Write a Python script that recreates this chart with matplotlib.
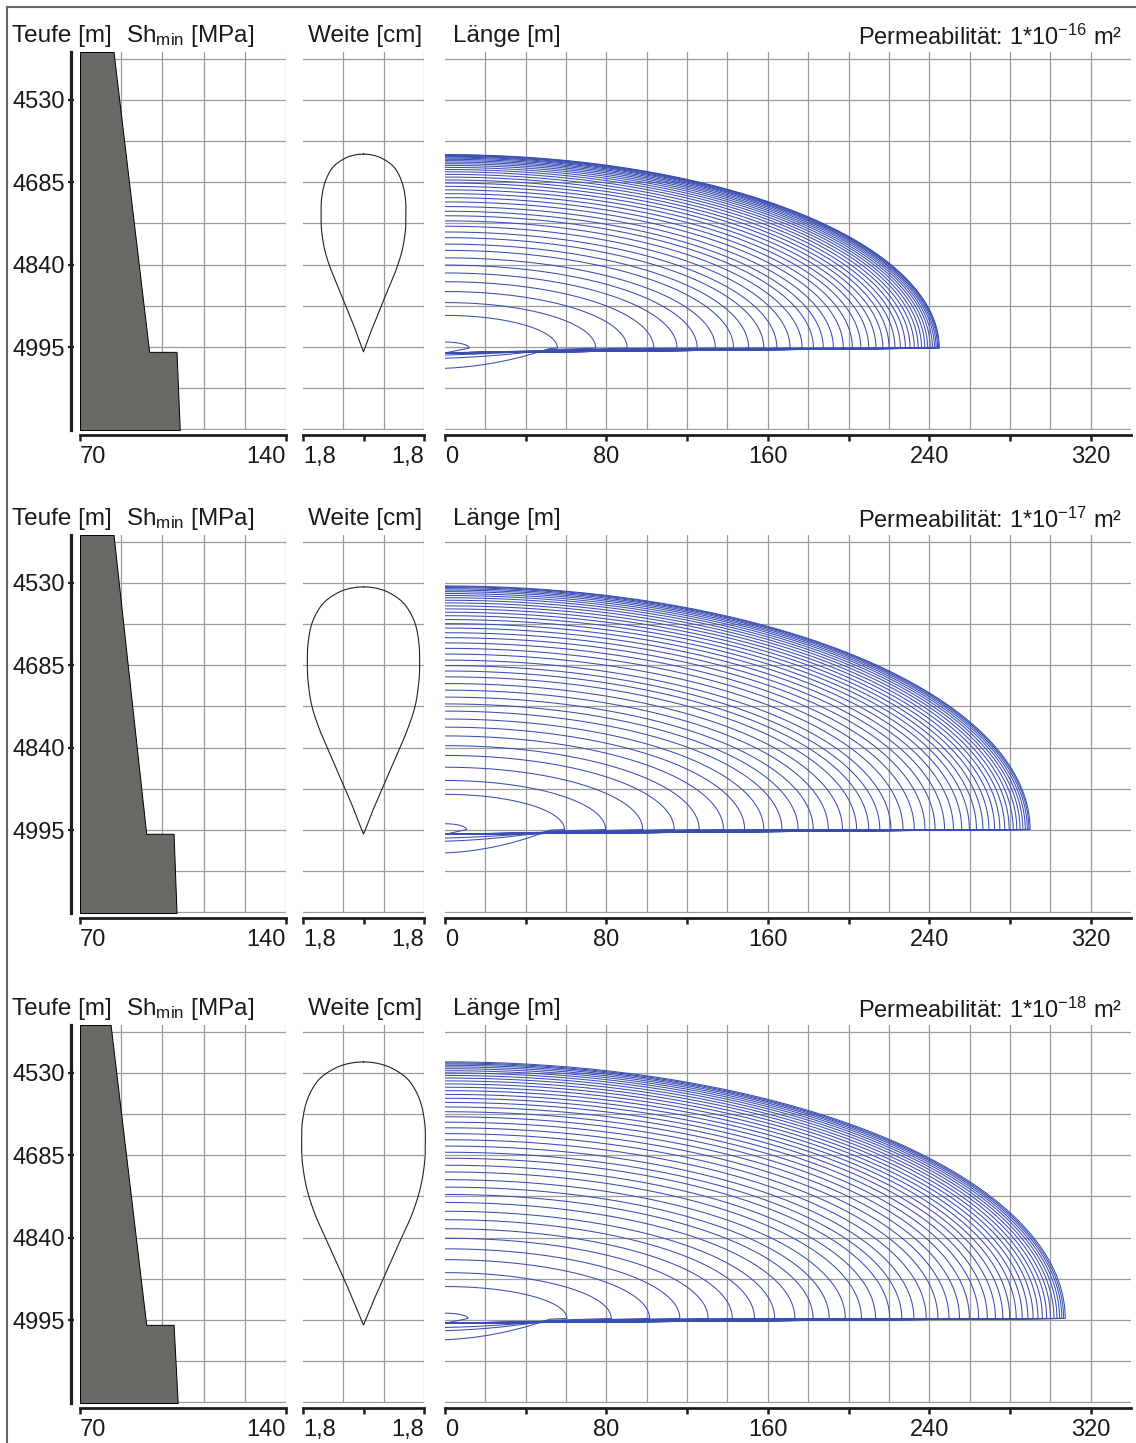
import numpy as np
import matplotlib
matplotlib.use("Agg")
import matplotlib.pyplot as plt
from matplotlib.lines import Line2D

plt.rcParams['font.family'] = ['Liberation Sans', 'DejaVu Sans']
plt.rcParams['mathtext.fontset'] = 'custom'
plt.rcParams['mathtext.rm'] = 'Liberation Sans'
plt.rcParams['mathtext.it'] = 'Liberation Sans:italic'
plt.rcParams['mathtext.bf'] = 'Liberation Sans:bold'

# ---------------- data ----------------
permeability_exp = ["-16", "-17", "-18"]
depth_ticks = [4530, 4685, 4840, 4995]
depth_tick_labels = ["4530", "4685", "4840", "4995"]
stress_ticks = [70, 140]
stress_tick_labels = ["70", "140"]
width_ticks = [-1.8, 0.0, 1.8]
width_tick_labels = ["1,8", "", "1,8"]
length_ticks = [0, 80, 160, 240, 320]
length_minor_ticks = [40, 120, 200, 280]

# minimum horizontal stress profiles (depth [m], Sh_min [MPa])
stress_depth_1 = [4440, 5004, 5004, 5151]
stress_mpa_1 = [81.4, 93.5, 102.8, 103.9]
stress_depth_2 = [4440, 5002, 5002, 5151]
stress_mpa_2 = [81.4, 92.5, 101.8, 102.8]
stress_depth_3 = [4440, 5004, 5004, 5151]
stress_mpa_3 = [80.4, 92.5, 101.8, 103.2]

# width profile at the well (depth [m], half width [cm])
width_depth_1 = [4632.0, 4641.3, 4659.9, 4687.8, 4717.6, 4743.6, 4773.4, 4810.6, 4847.8, 4885.0, 4922.2, 4959.4, 4989.1, 5004.0]
width_half_1 = [0.0, 0.59, 0.95, 1.16, 1.25, 1.26, 1.25, 1.16, 0.98, 0.74, 0.50, 0.26, 0.09, 0.0]
width_depth_2 = [4537.5, 4549.1, 4572.4, 4607.3, 4644.5, 4677.0, 4714.2, 4760.7, 4807.2, 4853.7, 4900.2, 4946.7, 4983.9, 5002.5]
width_half_2 = [0.0, 0.78, 1.25, 1.54, 1.65, 1.67, 1.65, 1.54, 1.30, 0.99, 0.67, 0.35, 0.12, 0.0]
width_depth_3 = [4509.4, 4521.8, 4546.5, 4583.7, 4623.3, 4657.9, 4697.5, 4747.0, 4796.5, 4846.0, 4895.5, 4945.0, 4984.6, 5004.4]
width_half_3 = [0.0, 0.86, 1.38, 1.69, 1.82, 1.84, 1.82, 1.69, 1.44, 1.09, 0.74, 0.39, 0.13, 0.0]

# fracture outlines over time: tip length [m] and top depth at the well [m]
frac_len_1 = [12.0, 55.7, 74.7, 90.3, 103.5, 115.0, 125.0, 134.0, 143.0, 150.5, 158.0, 164.5, 171.0, 177.0,
              182.6, 187.5, 192.5, 197.4, 201.9, 206.1, 210.0, 213.6, 217.0, 220.1, 223.0, 225.7, 228.2,
              230.5, 232.6, 234.5, 236.2, 237.8, 239.2, 240.5, 241.6, 242.6, 243.4, 244.1, 244.6, 245.0]
frac_top_1 = [4985.5, 4935.4, 4911.3, 4890.5, 4872.1, 4855.6, 4840.8, 4827.2, 4813.1, 4801.3, 4789.2, 4778.5,
              4767.7, 4757.6, 4748.0, 4739.5, 4730.7, 4722.0, 4714.0, 4706.4, 4699.3, 4692.7, 4686.4, 4680.7,
              4675.2, 4670.1, 4665.3, 4661.0, 4657.0, 4653.3, 4650.0, 4647.0, 4644.3, 4641.8, 4639.5, 4637.6,
              4636.1, 4634.7, 4633.7, 4633.0]
frac_len_2 = [10.7, 59.2, 79.6, 98.0, 113.6, 126.0, 138.0, 148.5, 158.0, 167.0, 175.0, 182.5, 190.0, 197.0,
              204.0, 210.0, 215.5, 221.0, 227.0, 232.6, 237.9, 242.9, 247.6, 252.0, 256.1, 259.9, 263.4, 266.6,
              269.6, 272.4, 275.0, 277.4, 279.6, 281.6, 283.4, 285.0, 286.4, 287.6, 288.6, 289.4, 290.0]
frac_top_2 = [4983.1, 4927.8, 4901.7, 4876.8, 4854.6, 4836.2, 4817.9, 4801.4, 4786.1, 4771.2, 4757.7, 4744.9,
              4731.8, 4719.4, 4706.8, 4695.8, 4685.6, 4675.3, 4663.9, 4653.2, 4642.9, 4633.1, 4623.8, 4615.0,
              4606.7, 4599.0, 4591.8, 4585.2, 4579.0, 4573.2, 4567.7, 4562.7, 4558.0, 4553.8, 4550.0, 4546.5,
              4543.6, 4541.0, 4538.8, 4537.1, 4535.8]
frac_len_3 = [11.4, 60.4, 82.4, 101.4, 116.4, 130.4, 142.4, 153.4, 163.4, 173.4, 182.4, 190.4, 198.4, 206.4,
              213.4, 220.4, 226.4, 232.4, 238.5, 244.3, 249.8, 255.0, 259.9, 264.5, 268.8, 272.8, 276.5, 279.9,
              283.1, 286.1, 288.9, 291.5, 293.9, 296.1, 298.2, 300.1, 301.8, 303.3, 304.6, 305.7, 306.6, 307.4]
frac_top_3 = [4982.0, 4931.9, 4905.8, 4881.4, 4861.0, 4841.0, 4823.2, 4806.2, 4790.3, 4773.8, 4758.7, 4744.9,
              4730.9, 4716.4, 4703.7, 4690.6, 4679.3, 4667.7, 4655.8, 4644.3, 4633.3, 4622.7, 4612.6, 4603.1,
              4594.1, 4585.6, 4577.8, 4570.5, 4563.5, 4557.0, 4550.8, 4545.1, 4539.7, 4534.8, 4530.1, 4525.9,
              4522.1, 4518.7, 4515.7, 4513.2, 4511.2, 4509.3]
# depth of the fracture tips and downward bulge of the early outlines [m]
frac_tip_depth = [4997, 4994, 4992]
frac_bulge_1 = [0, 29, 10, 4]
frac_bulge_2 = [0, 35, 13, 7]
frac_bulge_3 = [0, 31, 14, 8]

rows = [
    dict(sd=stress_depth_1, sv=stress_mpa_1, wd=width_depth_1, wh=width_half_1,
         fl=frac_len_1, ft=frac_top_1, fb=frac_bulge_1, tip=frac_tip_depth[0], exp=permeability_exp[0]),
    dict(sd=stress_depth_2, sv=stress_mpa_2, wd=width_depth_2, wh=width_half_2,
         fl=frac_len_2, ft=frac_top_2, fb=frac_bulge_2, tip=frac_tip_depth[1], exp=permeability_exp[1]),
    dict(sd=stress_depth_3, sv=stress_mpa_3, wd=width_depth_3, wh=width_half_3,
         fl=frac_len_3, ft=frac_top_3, fb=frac_bulge_3, tip=frac_tip_depth[2], exp=permeability_exp[2]),
]

# ---------------- layout / style ----------------
W, H = 1136, 1443
fig = plt.figure(figsize=(W / 100, H / 100), dpi=100)
row_tops = [52, 535, 1025]
panel_h = 378
GRID = '#9b9b9b'
BLUE = '#3a4db2'
FILL = '#676964'
AX = '#1e1e1e'
TXT = '#1a1a1a'
YLIM = (5151, 4440)
hgrid = [4452.5 + 77.5 * k for k in range(10)]


def px_axes(x0, y0, x1, y1):
    return fig.add_axes([x0 / W, 1 - y1 / H, (x1 - x0) / W, (y1 - y0) / H])


def catmull(xs, ys, n=24):
    xs = np.asarray(xs, float); ys = np.asarray(ys, float)
    px = np.r_[2 * xs[0] - xs[1], xs, 2 * xs[-1] - xs[-2]]
    py = np.r_[2 * ys[0] - ys[1], ys, 2 * ys[-1] - ys[-2]]
    ox, oy = [], []
    t = np.linspace(0, 1, n, endpoint=False)
    for i in range(1, len(px) - 2):
        for P, out in ((px, ox), (py, oy)):
            p0, p1, p2, p3 = P[i - 1], P[i], P[i + 1], P[i + 2]
            out.extend(0.5 * ((2 * p1) + (-p0 + p2) * t + (2 * p0 - 5 * p1 + 4 * p2 - p3) * t ** 2
                              + (-p0 + 3 * p1 - 3 * p2 + p3) * t ** 3))
    ox.append(xs[-1]); oy.append(ys[-1])
    return np.array(ox), np.array(oy)


def teardrop(half, depth):
    half = np.asarray(half, float); depth = np.asarray(depth, float)
    # rounded cap on top: smooth the squared half-width
    s2, y2 = catmull(half ** 2, depth)
    x_round = np.sqrt(np.clip(s2, 0, None))
    # tapered lower part: smooth the half-width itself
    x_lin, y_lin = catmull(half, depth)
    dmax = depth[np.argmax(half)]
    up = y2 <= dmax
    lo = y_lin > dmax
    sx = np.r_[x_round[up], np.clip(x_lin[lo], 0, None)]
    sy = np.r_[y2[up], y_lin[lo]]
    return np.r_[sx, -sx[::-1]], np.r_[sy, sy[::-1]]


def outline(L, top, tip, bulge):
    t = np.linspace(0, np.pi / 2, 140)
    x_up = L * np.sin(t)
    y_up = tip - (tip - top) * np.cos(t)
    x_lo = x_up[::-1]
    y_lo = tip + 9.0 * (1 - x_lo / L)
    if bulge > 0:
        e = min(52.0, L)
        y_lo = y_lo + bulge * np.clip(1 - (x_lo / e) ** 2, 0, None)
    return np.r_[x_up, x_lo], np.r_[y_up, y_lo]


def style_bottom(ax):
    for s in ('top', 'right', 'left'):
        ax.spines[s].set_visible(False)
    ax.spines['bottom'].set_position(('outward', 3.6))
    ax.spines['bottom'].set_linewidth(2.0)
    ax.spines['bottom'].set_color(AX)
    ax.tick_params(axis='x', which='both', direction='out', length=4.5, width=1.8,
                   color=AX, labelsize=17, pad=3.5, labelcolor=TXT)
    ax.set_ylim(*YLIM)
    for yv in hgrid:
        ax.axhline(yv, color=GRID, lw=0.9, zorder=0)


for r, row in enumerate(rows):
    top = row_tops[r]
    bot = top + panel_h

    # --- stress panel
    ax_s = px_axes(80, top, 286, bot)
    style_bottom(ax_s)
    ax_s.set_xlim(70, 140)
    for xv in [84, 98, 112, 126, 140]:
        ax_s.axvline(xv, color=GRID, lw=0.9, zorder=0)
    ax_s.fill_betweenx(row['sd'], 70, row['sv'], facecolor=FILL, edgecolor='black',
                       linewidth=0.7, zorder=2)
    ax_s.set_xticks(stress_ticks)
    ax_s.set_xticklabels(stress_tick_labels)
    labs = ax_s.get_xticklabels()
    labs[0].set_ha('left'); labs[-1].set_ha('right')
    ax_s.spines['left'].set_visible(True)
    ax_s.spines['left'].set_position(('outward', 6.5))
    ax_s.spines['left'].set_linewidth(2.3)
    ax_s.spines['left'].set_color(AX)
    ax_s.set_yticks(depth_ticks)
    ax_s.set_yticklabels(depth_tick_labels)
    ax_s.tick_params(axis='y', direction='inout', length=5, width=1.6, color=AX,
                     labelsize=17, pad=1.5, labelcolor=TXT)

    # --- width panel
    ax_w = px_axes(303, top, 424, bot)
    style_bottom(ax_w)
    ax_w.set_xlim(-1.8, 1.8)
    for xv in [-0.6, 0.6, 1.8]:
        ax_w.axvline(xv, color=GRID, lw=0.9, zorder=0)
    tx, ty = teardrop(row['wh'], row['wd'])
    ax_w.plot(tx, ty, color='#222222', lw=0.8, zorder=3, clip_on=False)
    ax_w.set_xticks(width_ticks)
    ax_w.set_xticklabels(width_tick_labels)
    labs = ax_w.get_xticklabels()
    labs[0].set_ha('left'); labs[-1].set_ha('right')
    ax_w.set_yticks([])

    # --- length panel
    ax_l = px_axes(445, top, 1131, bot)
    style_bottom(ax_l)
    ax_l.set_xlim(0, 340)
    for xv in range(20, 340, 20):
        ax_l.axvline(xv, color=GRID, lw=0.9, zorder=0)
    for i, (L, tp) in enumerate(zip(row['fl'], row['ft'])):
        b = row['fb'][i] if i < len(row['fb']) else 0
        xx, yy = outline(L, tp, row['tip'], b)
        ax_l.plot(xx, yy, color=BLUE, lw=0.75, zorder=3, solid_joinstyle='round')
    ax_l.set_xticks(length_ticks)
    ax_l.set_xticks(length_minor_ticks, minor=True)
    ax_l.set_xticklabels([str(v) for v in length_ticks])
    ax_l.get_xticklabels()[0].set_ha('left')
    ax_l.set_yticks([])

    # --- headers
    base = top - 10
    fy = 1 - base / H
    fig.text(12 / W, fy, "Teufe [m]", fontsize=17.5, va='baseline', color=TXT)
    fig.text(126 / W, fy, r"Sh$_{\mathrm{min}}$ [MPa]", fontsize=17.5, va='baseline', color=TXT)
    fig.text(308 / W, fy, "Weite [cm]", fontsize=17.5, va='baseline', color=TXT)
    fig.text(453 / W, fy, "Länge [m]", fontsize=17.5, va='baseline', color=TXT)
    fig.text(1122 / W, 1 - (base + 3) / H,
             "Permeabilität: 1*10$^{" + row['exp'] + "}$ m²",
             fontsize=17, va='baseline', ha='right', color=TXT)

# figure frame (top and left edges)
fig.add_artist(Line2D([7 / W, 1.0], [1 - 7 / H, 1 - 7 / H], color='#666666', lw=1.5,
                      transform=fig.transFigure))
fig.add_artist(Line2D([7 / W, 7 / W], [1 - 7 / H, 0.0], color='#666666', lw=1.5,
                      transform=fig.transFigure))

fig.savefig("out.png", dpi=100, facecolor='white')
